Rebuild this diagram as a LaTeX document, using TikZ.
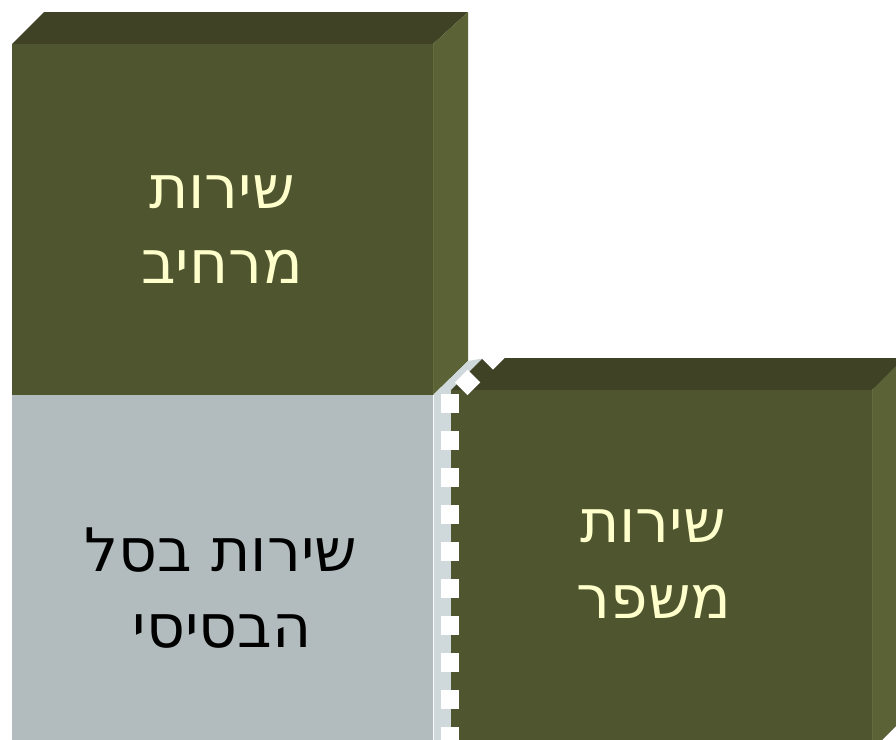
\documentclass[tikz,border=0pt]{standalone}
\usepackage{fontspec}
\newfontfamily\hebfont[Script=Hebrew]{DejaVu Sans}
\TeXXeTstate=1
\definecolor{frontc}{HTML}{4F552E}
\definecolor{topc}{HTML}{3F4224}
\definecolor{sidec}{HTML}{5A6236}
\definecolor{edgec}{HTML}{636C3B}
\definecolor{grayfront}{HTML}{B2BBBD}
\definecolor{grayside}{HTML}{CFD9DC}
\definecolor{txty}{HTML}{FFFFCC}
\tikzset{
  lbl/.style={font=\hebfont\fontsize{60}{72}\selectfont, text=txty, anchor=base, inner sep=0pt},
  lbldark/.style={lbl, text=black},
  dashline/.style={draw=white, line width=18pt, dash pattern=on 18.5pt off 18.5pt}
}
\begin{document}
\begin{tikzpicture}[x=1pt,y=-1pt]
\useasboundingbox (0,0) rectangle (896,739);
\clip (0,0) rectangle (896,739);
% top-left block
\fill[topc] (12,44) -- (44,12) -- (468,12) -- (433,44) -- cycle;
\fill[frontc] (12,44) rectangle (433,395);
\fill[sidec] (433,44) -- (468,12) -- (468,361) -- (433,395) -- cycle;
\draw[edgec, line width=1.2pt] (433.6,44) -- (433.6,395);
% gray block
\fill[grayfront] (12,395) rectangle (433,760);
\fill[grayside] (433,395) -- (468,361) -- (485,358) -- (451,390) -- (451,760) -- (433,760) -- cycle;
\draw[white!88!grayside, line width=1.2pt] (433.6,395) -- (433.6,760);
% right block
\fill[topc] (451,390) -- (483,358) -- (910,358) -- (872,390) -- cycle;
\fill[frontc] (451,390) rectangle (872,760);
\fill[sidec] (872,390) -- (904,358) -- (904,718) -- (872,750) -- cycle;
\draw[edgec, line width=1.2pt] (872.6,390) -- (872.6,750);
% white dashed edge
\coordinate (dv1) at (450,394);
\coordinate (dv2) at (450,770);
\coordinate (dd1) at (461.2,388.8);
\coordinate (dd2) at (540,310);
\draw[dashline] (dv1) -- (dv2);
\draw[dashline, dash pattern=on 18pt off 18pt] (dd1) -- (dd2);
% labels
\node[lbl] (a1) at (222,208) {\beginR שירות\endR};
\node[lbl] (a2) at (222,283) {\beginR מרחיב\endR};
\node[lbldark] (b1) at (221,571) {\beginR שירות בסל\endR};
\node[lbldark] (b2) at (222,647) {\beginR הבסיסי\endR};
\node[lbl] (c1) at (653,542) {\beginR שירות\endR};
\node[lbl] (c2) at (654,618) {\beginR משפר\endR};
\end{tikzpicture}
\end{document}
